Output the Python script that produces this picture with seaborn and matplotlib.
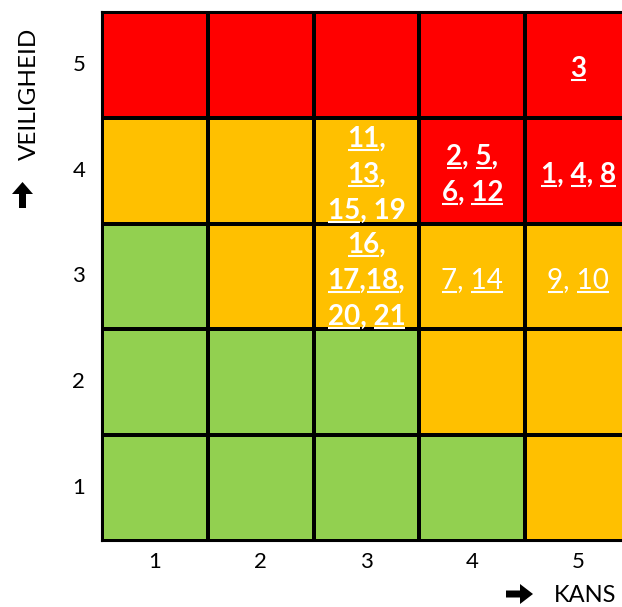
import numpy as np
import pandas as pd
import matplotlib
matplotlib.use("Agg")
import matplotlib.pyplot as plt
import seaborn as sns
from matplotlib.colors import ListedColormap
from matplotlib.font_manager import FontProperties
from matplotlib.lines import Line2D
from matplotlib.patches import FancyArrow
from matplotlib.transforms import IdentityTransform

# ---------------- data ----------------
kans_labels = [1, 2, 3, 4, 5]
veiligheid_labels = [5, 4, 3, 2, 1]
# risk level per row (veiligheid 5 at top ... 1 at bottom): 0 green, 1 orange, 2 red
risk_levels = [
    [2, 2, 2, 2, 2],
    [1, 1, 1, 2, 2],
    [0, 1, 1, 1, 1],
    [0, 0, 0, 1, 1],
    [0, 0, 0, 0, 1],
]
level_colors = ["#92D050", "#FFC000", "#FF0000"]

# incident numbers per cell; text between underscores is underlined
cell_kans = [5, 3, 4, 5, 3, 4, 5]
cell_veiligheid = [5, 4, 4, 4, 3, 3, 3]
cell_lines = [
    ["_3_"],
    ["_11_,", "_13_,", "_15_, 19"],
    ["_2_, _5_,", "_6_, _12_"],
    ["_1_, _4_, _8_"],
    ["_16_,", "_17_,_18_,", "_20_, _21_"],
    ["_7_, _14_"],
    ["_9_, _10_"],
]
cell_bold = [True, True, True, True, True, False, False]

x_title = "KANS"
y_title = "VEILIGHEID"

# ---------------- figure ----------------
W, H, DPI = 622, 607, 100
plt.rcParams["font.family"] = ["Lato", "DejaVu Sans"]

fig = plt.figure(figsize=(W / DPI, H / DPI), dpi=DPI)
# the grid runs past the right edge of the picture, as in the reference
ax = fig.add_axes([102 / W, 1 - 541 / H, 529 / W, 529 / H])

df = pd.DataFrame(risk_levels, index=veiligheid_labels, columns=kans_labels)
sns.heatmap(df, cmap=ListedColormap(level_colors), vmin=-0.5, vmax=2.5,
            cbar=False, linewidths=1.5, linecolor="black", ax=ax)

for s in ax.spines.values():
    s.set_visible(True)
    s.set_color("black")
    s.set_linewidth(1.5)

ax.tick_params(length=0, labelsize=16, colors="black")
ax.tick_params(axis="y", pad=12)
ax.tick_params(axis="x", pad=8)
ax.set_yticklabels(veiligheid_labels, rotation=0)
ax.set_xticklabels(kans_labels, rotation=0)
ax.set_xlabel("")
ax.set_ylabel("")

# axis titles
fig.text(29 / W, 1 - 94 / H, y_title, rotation=90, ha="center", va="center",
         fontsize=17.5, color="black")
fig.text(616 / W, 1.5 / H, x_title, ha="right", va="bottom",
         fontsize=17, color="black")

# heavy arrows in front of the titles (pixel coordinates)
up = FancyArrow(22.5, H - 208, 0, 26, width=7, head_width=21, head_length=12,
                length_includes_head=True, color="black", lw=0,
                transform=IdentityTransform())
right = FancyArrow(506, H - 594, 27, 0, width=7, head_width=20, head_length=13,
                   length_includes_head=True, color="black", lw=0,
                   transform=IdentityTransform())
fig.add_artist(up)
fig.add_artist(right)

# ---------------- cell labels with underlines ----------------
renderer = fig.canvas.get_renderer()
FS = 20
fs_px = FS * DPI / 72
cap_half = 0.72 * fs_px / 2
LH = 36


def advance(s, prop):
    w1, _, _ = renderer.get_text_width_height_descent("X" + s + "X", prop, False)
    w0, _, _ = renderer.get_text_width_height_descent("XX", prop, False)
    return w1 - w0


for k, v, lines, bold in zip(cell_kans, cell_veiligheid, cell_lines, cell_bold):
    col = kans_labels.index(k) + 0.5
    row = veiligheid_labels.index(v) + 0.5
    xc, yc = ax.transData.transform((col, row))
    prop = FontProperties(family="Lato", weight="bold" if bold else "normal", size=FS)
    n = len(lines)
    for i, line in enumerate(lines):
        parts = line.split("_")
        plain = "".join(parts)
        total = advance(plain, prop)
        x0 = xc - total / 2
        ycl = yc + (n - 1) / 2 * LH - i * LH
        base = ycl - cap_half - 2
        fig.text(x0 / W, base / H, plain, ha="left", va="baseline",
                 fontproperties=prop, color="white")
        pos = x0
        for j, p in enumerate(parts):
            wp = advance(p, prop) if p else 0
            if j % 2 == 1 and p:
                fig.add_artist(Line2D([(pos + 0.5) / W, (pos + wp) / W],
                                      [(base - 3) / H, (base - 3) / H],
                                      transform=fig.transFigure,
                                      color="white", lw=1.5,
                                      solid_capstyle="butt"))
            pos += wp

fig.savefig("out.png", dpi=DPI)
